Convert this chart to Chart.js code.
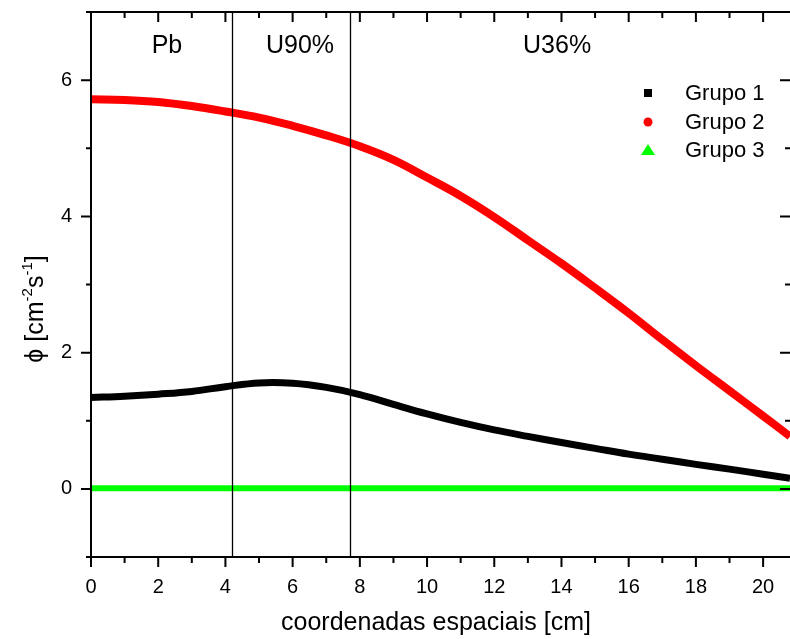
<!DOCTYPE html>
<html>
<head>
<meta charset="utf-8">
<script src="https://cdn.jsdelivr.net/npm/chart.js@4.4.1/dist/chart.umd.min.js"></script>
<style>
  html, body { margin: 0; padding: 0; background: #fff; }
</style>
</head>
<body>
<canvas id="chart" width="790" height="639"></canvas>
<script>
// positions along the slab [cm]
const xs = [0, 1, 2, 3, 4, 5, 6, 7, 8, 9, 10, 11, 12, 13, 14, 15, 16, 17, 18, 19, 20, 20.8];

const grupo1 = [1.34, 1.36, 1.39, 1.43, 1.50, 1.555, 1.55, 1.49, 1.385, 1.24, 1.10,
                0.975, 0.865, 0.77, 0.68, 0.595, 0.51, 0.435, 0.36, 0.29, 0.215, 0.155];
const grupo2 = [5.72, 5.71, 5.68, 5.62, 5.54, 5.45, 5.33, 5.19, 5.03, 4.83, 4.57,
                4.30, 3.99, 3.65, 3.31, 2.95, 2.58, 2.19, 1.81, 1.44, 1.07, 0.77];
const grupo3 = [0.01, 0.01, 0.01, 0.01, 0.01, 0.01, 0.01, 0.01, 0.01, 0.01, 0.01,
                0.01, 0.01, 0.01, 0.01, 0.01, 0.01, 0.01, 0.01, 0.01, 0.01, 0.01];

const xTicks = [0, 2, 4, 6, 8, 10, 12, 14, 16, 18, 20];
const xMinor = [1, 3, 5, 7, 9, 11, 13, 15, 17, 19];
const yTicks = [0, 2, 4, 6];
const yMinor = [-1, 1, 3, 5, 7];

// material boundaries and region names
const boundaries = [4.2, 7.7];
const regionNames = ["Pb", "U90%", "U36%"];
const regionCenters = [2.26, 6.22, 13.87];

const FONT = "'Liberation Sans', Arial, sans-serif";

function pts(ys) {
  return xs.map(function (x, i) { return { x: x, y: ys[i] }; });
}

const framePlugin = {
  id: "frame",
  afterDatasetsDraw: function (chart) {
    const c = chart.ctx;
    const a = chart.chartArea;
    const sx = chart.scales.x;
    const sy = chart.scales.y;
    c.save();
    c.strokeStyle = "#000";

    // boundary lines
    c.lineWidth = 1.3;
    boundaries.forEach(function (b) {
      const px = Math.round(sx.getPixelForValue(b)) + 0.5;
      c.beginPath();
      c.moveTo(px, a.top);
      c.lineTo(px, a.bottom);
      c.stroke();
    });

    // region labels
    c.fillStyle = "#000";
    c.font = "25px " + FONT;
    c.textAlign = "center";
    c.textBaseline = "alphabetic";
    regionNames.forEach(function (n, i) {
      c.fillText(n, sx.getPixelForValue(regionCenters[i]), 53);
    });

    // frame
    c.lineWidth = 2;
    c.beginPath();
    c.moveTo(a.left, a.top);
    c.lineTo(a.left, a.bottom);
    c.lineTo(a.right, a.bottom);
    c.moveTo(a.left, a.top);
    c.lineTo(a.right, a.top);
    c.stroke();

    function xTick(v, len) {
      const px = sx.getPixelForValue(v);
      c.beginPath();
      c.moveTo(px, a.bottom);
      c.lineTo(px, a.bottom + len);
      c.moveTo(px, a.top);
      c.lineTo(px, a.top + len);
      c.stroke();
    }
    function yTick(v, len) {
      const py = sy.getPixelForValue(v);
      c.beginPath();
      c.moveTo(a.left, py);
      c.lineTo(a.left - len, py);
      c.moveTo(a.right, py);
      c.lineTo(a.right - len, py);
      c.stroke();
    }
    xTicks.forEach(function (v) { xTick(v, 10); });
    xMinor.forEach(function (v) { xTick(v, 6); });
    yTicks.forEach(function (v) { yTick(v, 10); });
    yMinor.forEach(function (v) { yTick(v, 5); });
    c.restore();
  },
  afterDraw: function (chart) {
    const c = chart.ctx;
    c.save();
    c.fillStyle = "#000";

    // x title
    c.font = "25px " + FONT;
    c.textAlign = "center";
    c.textBaseline = "alphabetic";
    c.fillText("coordenadas espaciais [cm]", 436, 630);

    // y title with superscripts, rotated
    const parts = [
      { t: "\u03d5 [cm", s: 25, dy: 0 },
      { t: "-2", s: 15, dy: -11 },
      { t: "s", s: 25, dy: 0 },
      { t: "-1", s: 15, dy: -11 },
      { t: "]", s: 25, dy: 0 }
    ];
    let total = 0;
    parts.forEach(function (p) {
      c.font = p.s + "px " + FONT;
      p.w = c.measureText(p.t).width;
      total += p.w;
    });
    c.translate(43, 309);
    c.rotate(-Math.PI / 2);
    c.textAlign = "left";
    let x = -total / 2;
    parts.forEach(function (p) {
      c.font = p.s + "px " + FONT;
      c.fillText(p.t, x, p.dy);
      x += p.w;
    });
    c.restore();

    // legend
    c.save();
    const rows = [93, 122, 150];
    const mx = 648;
    c.font = "22px " + FONT;
    c.textAlign = "left";
    c.textBaseline = "middle";
    chart.data.datasets.forEach(function (ds, i) {
      const y = rows[i];
      c.fillStyle = ds.borderColor;
      c.beginPath();
      if (ds.pointStyle === "rect") {
        c.rect(mx - 4, y - 4, 8, 8);
      } else if (ds.pointStyle === "circle") {
        c.arc(mx, y, 4.5, 0, Math.PI * 2);
      } else {
        c.moveTo(mx, y - 6);
        c.lineTo(mx + 7, y + 5);
        c.lineTo(mx - 7, y + 5);
        c.closePath();
      }
      c.fill();
      c.fillStyle = "#000";
      c.fillText(ds.label, 685, y + 1);
    });
    c.restore();
  }
};

new Chart(document.getElementById("chart").getContext("2d"), {
  type: "line",
  data: {
    datasets: [
      {
        label: "Grupo 1",
        data: pts(grupo1),
        borderColor: "#000000",
        borderWidth: 7,
        pointRadius: 0,
        pointStyle: "rect",
        tension: 0.4,
        order: 2
      },
      {
        label: "Grupo 2",
        data: pts(grupo2),
        borderColor: "#ff0000",
        borderWidth: 8,
        pointRadius: 0,
        pointStyle: "circle",
        tension: 0.4,
        order: 1
      },
      {
        label: "Grupo 3",
        data: pts(grupo3),
        borderColor: "#00ff00",
        borderWidth: 6,
        pointRadius: 0,
        pointStyle: "triangle",
        tension: 0.4,
        order: 3
      }
    ]
  },
  options: {
    responsive: false,
    animation: false,
    layout: { padding: { top: 12, right: 0, left: 0, bottom: 0 } },
    scales: {
      x: {
        type: "linear",
        min: 0,
        max: 20.8,
        afterBuildTicks: function (scale) {
          scale.ticks = xTicks.map(function (v) { return { value: v }; });
        },
        afterFit: function (scale) {
          scale.height = 82;
          scale.paddingLeft = 0;
          scale.paddingRight = 0;
        },
        grid: { display: false, drawTicks: false },
        border: { display: false },
        ticks: {
          color: "#000",
          font: { family: FONT, size: 20 },
          padding: 18,
          maxRotation: 0,
          autoSkip: false
        }
      },
      y: {
        min: -1,
        max: 7,
        afterBuildTicks: function (scale) {
          scale.ticks = yTicks.map(function (v) { return { value: v }; });
        },
        afterFit: function (scale) {
          scale.width = 91;
          scale.paddingTop = 0;
          scale.paddingBottom = 0;
        },
        grid: { display: false, drawTicks: false },
        border: { display: false },
        ticks: {
          color: "#000",
          font: { family: FONT, size: 20 },
          padding: 19
        }
      }
    },
    plugins: {
      legend: { display: false },
      tooltip: { enabled: false }
    }
  },
  plugins: [framePlugin]
});
</script>
</body>
</html>
